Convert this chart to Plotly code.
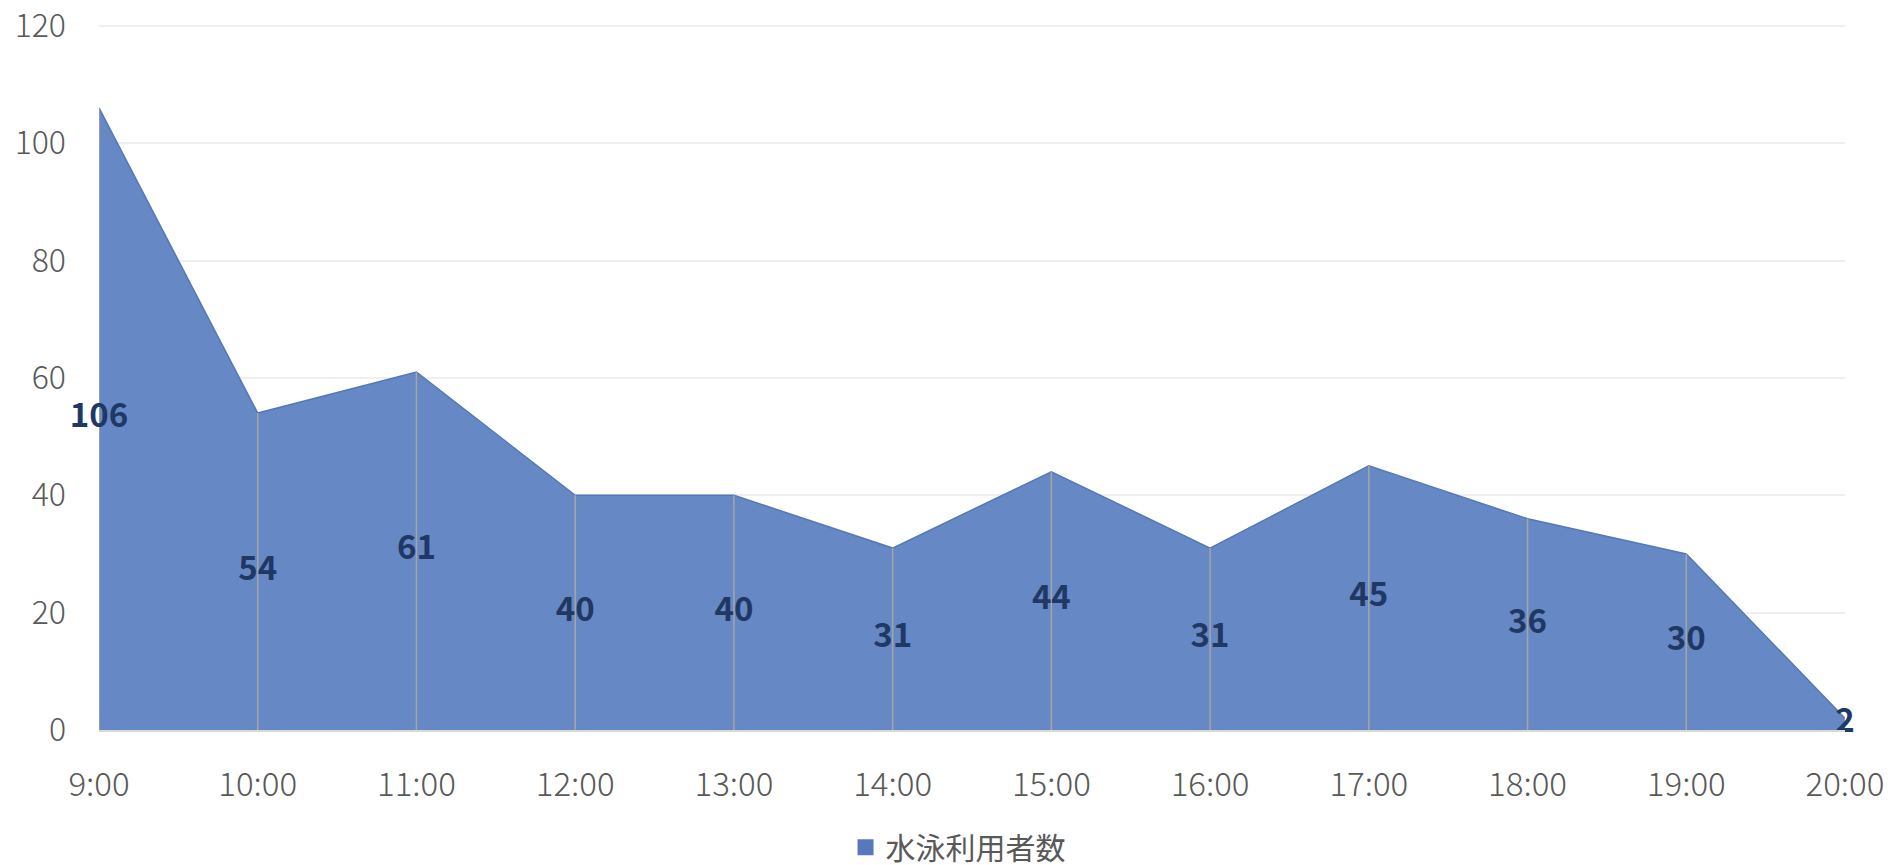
import plotly.graph_objects as go

hours = ["9:00", "10:00", "11:00", "12:00", "13:00", "14:00",
         "15:00", "16:00", "17:00", "18:00", "19:00", "20:00"]
swimmers = [106, 54, 61, 40, 40, 31, 44, 31, 45, 36, 30, 2]
series_name = "水泳利用者数"

area_color = "#6688c4"
label_color = "#203864"
tick_color = "#595959"
font_family = "Noto Sans CJK JP, Noto Sans, sans-serif"

fig = go.Figure()

# filled area
fig.add_trace(
    go.Scatter(
        x=hours,
        y=swimmers,
        mode="lines",
        fill="tozeroy",
        fillcolor=area_color,
        line=dict(color="#5478b8", width=1.5),
        showlegend=False,
        hoverinfo="skip",
    )
)

# drop lines from the axis up to each value
drop_x = []
drop_y = []
for h, v in zip(hours, swimmers):
    drop_x += [h, h, None]
    drop_y += [0, v, None]

fig.add_trace(
    go.Scatter(
        x=drop_x,
        y=drop_y,
        mode="lines",
        line=dict(color="#a6a6a6", width=1.5),
        showlegend=False,
        hoverinfo="skip",
    )
)

# data labels sit in the middle of the area, like excel does it
fig.add_trace(
    go.Scatter(
        x=hours,
        y=[v / 2 for v in swimmers],
        mode="text",
        text=[str(v) for v in swimmers],
        textposition="middle center",
        textfont=dict(family=font_family, size=33, color=label_color, weight="bold"),
        cliponaxis=False,
        showlegend=False,
        hoverinfo="skip",
    )
)

# legend entry only
fig.add_trace(
    go.Scatter(
        x=[None],
        y=[None],
        mode="markers",
        name=series_name,
        marker=dict(symbol="square", size=20, color="#5878bb"),
    )
)

fig.update_xaxes(
    type="category",
    categoryorder="array",
    categoryarray=hours,
    range=[0, len(hours) - 1],
    showgrid=False,
    showline=True,
    linecolor="#d9d9d9",
    linewidth=2,
    ticks="",
    ticklabelstandoff=24,
    tickfont=dict(family=font_family, size=33, color=tick_color, weight=300),
    zeroline=False,
)

fig.update_yaxes(
    range=[0, 120.3],
    dtick=20,
    showgrid=True,
    gridcolor="#efefef",
    gridwidth=1.5,
    zeroline=False,
    showline=False,
    ticks="",
    ticklabelstandoff=32,
    ticklabeloverflow="allow",
    tickfont=dict(family=font_family, size=32, color=tick_color, weight=300),
)

# page body has an 8px margin, so the figure is a bit smaller than the window
fig.update_layout(
    width=1890,
    height=857,
    margin=dict(l=91, r=53, t=16, b=135, autoexpand=False),
    plot_bgcolor="white",
    paper_bgcolor="white",
    showlegend=True,
    legend=dict(
        orientation="h",
        x=0.492,
        xanchor="center",
        y=-0.166,
        yanchor="middle",
        font=dict(family=font_family, size=30, color=tick_color),
        itemsizing="trace",
    ),
)

fig.write_html("out.html")
